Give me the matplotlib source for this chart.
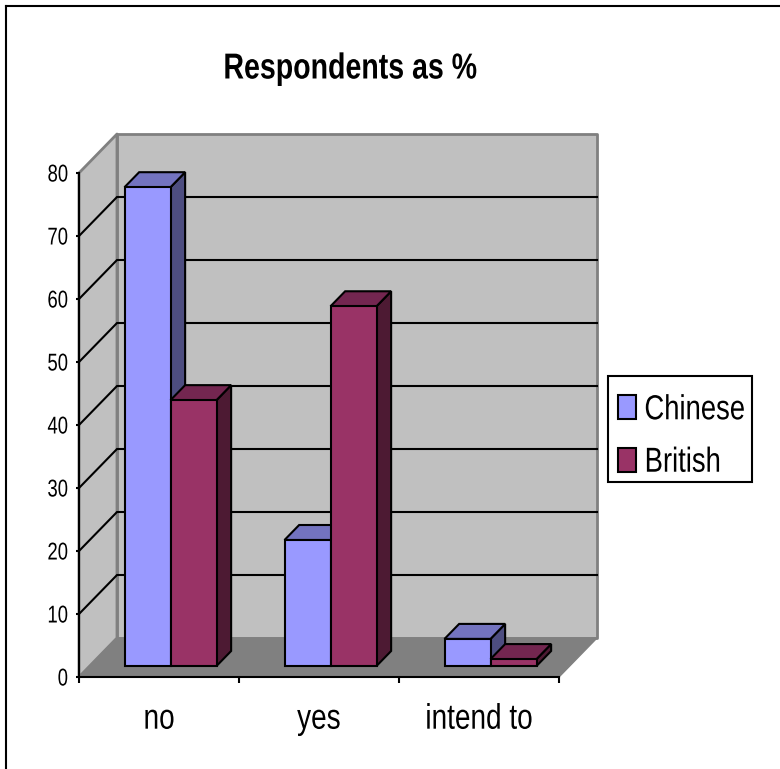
import matplotlib
matplotlib.use("Agg")
import matplotlib.pyplot as plt
from matplotlib.patches import Polygon, Patch, Rectangle
from matplotlib.lines import Line2D
from matplotlib.patheffects import AbstractPathEffect
from matplotlib.transforms import Affine2D

categories = ["no", "yes", "intend to"]
series_names = ["Chinese", "British"]
chinese = [76, 20, 4.3]
british = [42.2, 57.1, 1.1]
y_ticks = [0, 10, 20, 30, 40, 50, 60, 70, 80]

W, H = 780, 769
plt.rcParams["font.family"] = ["Liberation Sans", "DejaVu Sans"]


class Squeeze(AbstractPathEffect):
    """Narrow a text horizontally about its left, centre or right edge."""

    def __init__(self, sx, anchor):
        super().__init__()
        self.sx, self.anchor = sx, anchor

    def draw_path(self, renderer, gc, tpath, affine, rgbFace=None):
        ext = tpath.get_extents()
        a = ext.x0 + self.anchor * (ext.x1 - ext.x0)
        t = Affine2D().translate(-a, 0).scale(self.sx, 1).translate(a, 0)
        renderer.draw_path(gc, tpath, t + affine, rgbFace)


fig = plt.figure(figsize=(W / 100, H / 100), dpi=100, facecolor="white")
L, R, T, B = 79, 559, 173, 677
ax = fig.add_axes([L / W, 1 - B / H, (R - L) / W, (B - T) / H])
ax.set_xlim(0, 3)
ax.set_ylim(0, 80)
ax.patch.set_visible(False)

DX = 38 / 160
DY = 39 / 6.3


def P(x, v, d):
    return (x + d * DX, v + d * DY)


def poly(pts, fc, ec="black", lw=1.5, z=3, join="miter"):
    ax.add_patch(Polygon(pts, closed=True, facecolor=fc, edgecolor=ec, linewidth=lw,
                         zorder=z, clip_on=False, joinstyle=join))


GREY = "#808080"
WALL = "#C0C0C0"
poly([P(0, 0, 1), P(3, 0, 1), P(3, 80, 1), P(0, 80, 1)], WALL, GREY, 2, 1, "round")
poly([P(0, 0, 0), P(0, 0, 1), P(0, 80, 1), P(0, 80, 0)], WALL, GREY, 2, 1, "round")
poly([P(0, 0, 0), P(3, 0, 0), P(3, 0, 1), P(0, 0, 1)], GREY, GREY, 1, 1, "round")

for v in y_ticks[1:-1]:
    xs, ys = zip(P(0, v, 0), P(0, v, 1), P(3, v, 1))
    ax.plot(xs, ys, color="black", lw=1.5, zorder=2, clip_on=False, solid_joinstyle="miter")

BAR_W = 0.2875
OFF = 0.2175
D0, D1 = 11 / 39, 26 / 39
styles = [("#9999FF", "#7373BF", "#4D4D80"), ("#993366", "#732650", "#4D1A33")]

for s, values in enumerate([chinese, british]):
    front, top, side = styles[s]
    for c, v in enumerate(values):
        x0 = c + OFF + s * BAR_W
        x1 = x0 + BAR_W
        z = 3 + s + c * 3
        poly([P(x1, 0, D0), P(x1, 0, D1), P(x1, v, D1), P(x1, v, D0)], side, z=z)
        poly([P(x0, v, D0), P(x1, v, D0), P(x1, v, D1), P(x0, v, D1)], top, z=z)
        poly([P(x0, 0, D0), P(x1, 0, D0), P(x1, v, D0), P(x0, v, D0)], front, z=z)

for side in ("top", "right"):
    ax.spines[side].set_visible(False)
for side in ("left", "bottom"):
    ax.spines[side].set_linewidth(1.5)
    ax.spines[side].set_zorder(20)

ax.set_yticks(y_ticks)
ax.set_xticks([0, 1, 2, 3])
ax.set_xticklabels([])
ax.set_xticks([0.5, 1.5, 2.5], labels=categories, minor=True)
ax.tick_params(axis="y", length=2.2, width=1.5, labelsize=17.5, pad=5.5)
ax.tick_params(axis="x", which="major", length=4.5, width=1.5)
ax.tick_params(axis="x", which="minor", length=0, labelsize=25.5, pad=18.5)
for t in ax.get_yticklabels():
    t.set_path_effects([Squeeze(0.76, 1.0)])
for t in ax.get_xticklabels(minor=True):
    t.set_path_effects([Squeeze(0.79, 0.5)])

fig.text(350 / W, 1 - 69 / H, "Respondents as %", ha="center", va="center",
         fontsize=26, fontweight="bold", path_effects=[Squeeze(0.79, 0.5)])

fig.add_artist(Rectangle((607.5 / W, 1 - 482 / H), (751.7 - 607.5) / W, (482 - 376) / H,
                         transform=fig.transFigure, facecolor="white", edgecolor="black",
                         linewidth=1.5, zorder=5))
handles = [Patch(facecolor=styles[i][0], edgecolor="black", linewidth=1.5, label=series_names[i])
           for i in range(2)]
leg = fig.legend(handles=handles, loc="center left",
                 bbox_to_anchor=(618 / W, 1 - 436 / H), bbox_transform=fig.transFigure,
                 fontsize=25, frameon=False,
                 handlelength=0.52, handleheight=0.69, handletextpad=0.23,
                 labelspacing=0.56, borderpad=0, borderaxespad=0)
leg.set_zorder(6)
for t in leg.get_texts():
    t.set_path_effects([Squeeze(0.79, 0.0)])

fig.add_artist(Line2D([6 / W, 6 / W], [0, 1 - 6 / H], color="black", lw=1.5))
fig.add_artist(Line2D([6 / W, 1], [1 - 6 / H, 1 - 6 / H], color="black", lw=1.5))

fig.savefig("out.png", dpi=100)
